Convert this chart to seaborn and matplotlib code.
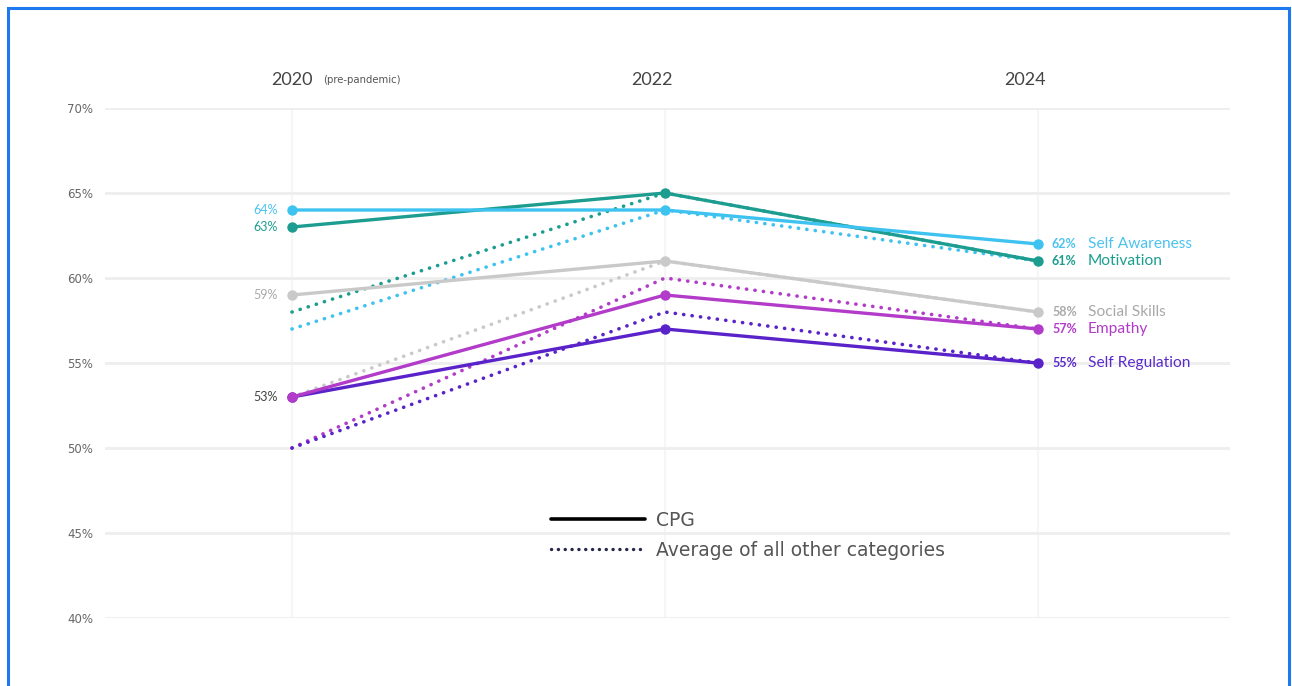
import matplotlib
matplotlib.use("Agg")
import matplotlib.pyplot as plt
import seaborn as sns
import pandas as pd
from matplotlib.lines import Line2D
from matplotlib.patches import Rectangle

# ---- data ----
years = [2020, 2022, 2024]
year_labels = ["2020", "2022", "2024"]
categories = ["Self Awareness", "Motivation", "Social Skills", "Empathy", "Self Regulation"]
cpg_self_awareness = [64, 64, 62]
cpg_motivation = [63, 65, 61]
cpg_social_skills = [59, 61, 58]
cpg_empathy = [53, 59, 57]
cpg_self_regulation = [53, 57, 55]
avg_self_awareness = [57, 64, 61]
avg_motivation = [58, 65, 61]
avg_social_skills = [53, 61, 58]
avg_empathy = [50, 60, 57]
avg_self_regulation = [50, 58, 55]
y_ticks = [40, 45, 50, 55, 60, 65, 70]

cpg = {"Self Awareness": cpg_self_awareness, "Motivation": cpg_motivation,
       "Social Skills": cpg_social_skills, "Empathy": cpg_empathy,
       "Self Regulation": cpg_self_regulation}
avg = {"Self Awareness": avg_self_awareness, "Motivation": avg_motivation,
       "Social Skills": avg_social_skills, "Empathy": avg_empathy,
       "Self Regulation": avg_self_regulation}

colors = {"Self Awareness": "#3EC2F0", "Motivation": "#1C9D90",
          "Social Skills": "#C9C9C9", "Empathy": "#B23CC9",
          "Self Regulation": "#5A22C9"}
label_colors = {"Self Awareness": "#4CC3EE", "Motivation": "#1C9D90",
                "Social Skills": "#A9A9A9", "Empathy": "#B23CC9",
                "Self Regulation": "#5A2ACB"}

rows = []
for c in categories:
    for y, v in zip(years, cpg[c]):
        rows.append({"year": y, "value": v, "category": c, "type": "CPG"})
    for y, v in zip(years, avg[c]):
        rows.append({"year": y, "value": v, "category": c, "type": "Average of all other categories"})
df = pd.DataFrame(rows)

sns.set_theme(style="white")
plt.rcParams["font.family"] = ["Lato", "DejaVu Sans"]

W, H = 1292, 686
fig = plt.figure(figsize=(W / 100, H / 100), dpi=100)
ax = fig.add_axes([105 / W, (H - 618) / H, (1230 - 105) / W, (618 - 108) / H])

# dotted series first
for c in categories:
    d = df[(df.category == c) & (df.type != "CPG")]
    sns.lineplot(data=d, x="year", y="value", ax=ax, color=colors[c], lw=2.6,
                 linestyle=(0, (0.05, 2.3)), dash_capstyle="round", legend=False,
                 clip_on=False, zorder=2)
for c in categories[::-1]:
    d = df[(df.category == c) & (df.type == "CPG")]
    sns.lineplot(data=d, x="year", y="value", ax=ax, color=colors[c], lw=2.4,
                 marker="o", markersize=7.5, markeredgewidth=0, legend=False,
                 clip_on=False, zorder=3)

ax.set_xlim(2020 - 2 * 187 / 373, 2024 + 2 * 192 / 373)
ax.set_ylim(40, 70)
ax.set_yticks(y_ticks)
ax.set_yticklabels([f"{t}%" for t in y_ticks], fontsize=8.5, color="#666666",
                   family="DejaVu Sans")
ax.tick_params(axis="y", length=0, pad=8.6)
ax.set_xticks(years)
ax.set_xticklabels([])
ax.tick_params(axis="x", length=0)
ax.set_xlabel("")
ax.set_ylabel("")
for s in ax.spines.values():
    s.set_visible(False)
ax.grid(axis="y", color="#EEEEEE", lw=2)
ax.grid(axis="x", color="#F6F6F6", lw=1.5)

# year headers
for y, lab in zip(years, year_labels):
    dx = 0 if y == 2020 else -13
    ax.annotate(lab, (y, 70), xytext=(dx, 28), textcoords="offset pixels",
                ha="center", va="center", fontsize=13, color="#444444",
                annotation_clip=False)
ax.annotate("(pre-pandemic)", (years[0], 70), xytext=(31, 28), textcoords="offset pixels",
            ha="left", va="center", fontsize=7.3, color="#555555",
            family="DejaVu Sans", annotation_clip=False)

# left labels
for c in ["Self Awareness", "Motivation", "Social Skills"]:
    ax.annotate(f"{cpg[c][0]}%", (years[0], cpg[c][0]), xytext=(-14, 0),
                textcoords="offset pixels", ha="right", va="center",
                fontsize=9, color=label_colors[c], annotation_clip=False)
ax.annotate(f"{cpg_empathy[0]}%", (years[0], cpg_empathy[0]), xytext=(-14, 0),
            textcoords="offset pixels", ha="right", va="center",
            fontsize=9, color="#444444", annotation_clip=False)

# right labels
for c in categories:
    v = cpg[c][-1]
    ax.annotate(f"{v}%", (years[-1], v), xytext=(14, 0), textcoords="offset pixels",
                ha="left", va="center", fontsize=9, fontweight="bold",
                color=label_colors[c], annotation_clip=False)
    ax.annotate(c, (years[-1], v), xytext=(50, 0), textcoords="offset pixels",
                ha="left", va="center", fontsize=11.2, color=label_colors[c],
                annotation_clip=False)

# legend
handles = [Line2D([], [], color="black", lw=2.6),
           Line2D([], [], color="#26264a", lw=2.4, linestyle=(0, (0.05, 2.0)),
                  dash_capstyle="round")]
leg = fig.legend(handles, ["CPG", "Average of all other categories"],
                 loc="upper left", bbox_to_anchor=(534 / W, 1 - 494 / H),
                 frameon=False, prop={"family": "DejaVu Sans", "size": 13.5},
                 handlelength=5.0, handletextpad=0.62,
                 labelspacing=0.58, labelcolor="#555555")

# blue frame
fig.patches.append(Rectangle((7.5 / W, -0.05), (1289 - 7.5) / W, 1.05 - 8.5 / H,
                             transform=fig.transFigure, fill=False,
                             edgecolor="#1E78F0", lw=2.2))

fig.savefig("out.png", dpi=100)
